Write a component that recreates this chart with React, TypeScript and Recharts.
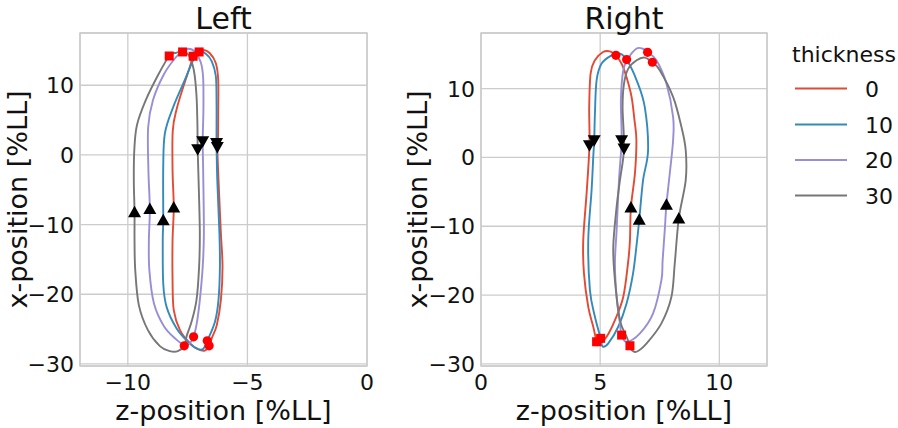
import React from "react";
import { ComposedChart, Line, Scatter, XAxis, YAxis, CartesianGrid } from "recharts";

// legend categories and line colours
const thickness = ["0", "10", "20", "30"];
const colors = ["#E24A33", "#348ABD", "#988ED5", "#777777"];

// Left foot loops, [z, x] in %LL, one closed loop per thickness
const leftT0: [number, number][] = [
  [-7.27, 14.16], [-7.11, 14.88], [-6.86, 15.09], [-6.57, 14.59], [-6.32, 13.16], [-6.22, 10.72],
  [-6.22, 6.41], [-6.23, 2.54], [-6.26, 1.15], [-6.19, -5.06], [-6.11, -11.23], [-6.04, -16.07],
  [-6.11, -20.85], [-6.28, -24.43], [-6.49, -26.3], [-6.6, -27.4], [-6.78, -28.09], [-7.07, -27.88],
  [-7.41, -27.02], [-7.82, -25.15], [-8.08, -22.28], [-8.13, -17.98], [-8.13, -12.24], [-8.08, -7.55],
  [-8.13, -2.2], [-8.12, 3.54], [-7.95, 6.7], [-7.66, 10.0], [-7.41, 12.58],
];
const leftT10: [number, number][] = [
  [-7.02, 14.78], [-6.74, 14.52], [-6.49, 13.44], [-6.32, 11.29], [-6.29, 7.13], [-6.29, 1.72],
  [-6.26, -3.63], [-6.17, -11.23], [-6.15, -16.07], [-6.21, -20.85], [-6.36, -24.0], [-6.68, -26.69],
  [-6.86, -27.88], [-7.13, -27.78], [-7.48, -26.83], [-7.96, -24.91], [-8.38, -21.81], [-8.52, -18.45],
  [-8.54, -12.24], [-8.52, -9.37], [-8.52, -1.72], [-8.45, 3.11], [-8.1, 6.89], [-7.62, 10.72],
  [-7.27, 13.59],
];
const leftT20: [number, number][] = [
  [-7.71, 14.78], [-7.47, 15.24], [-7.2, 14.81], [-6.95, 13.3], [-6.85, 11.0], [-6.84, 6.41],
  [-6.87, 1.97], [-6.85, -2.2], [-6.82, -11.23], [-6.87, -16.07], [-6.99, -20.85], [-7.11, -24.0],
  [-7.25, -26.11], [-7.41, -27.02], [-7.66, -27.23], [-7.99, -26.44], [-8.49, -24.58], [-8.91, -21.28],
  [-9.1, -16.54], [-9.12, -12.24], [-9.08, -7.75], [-9.14, -2.2], [-9.15, 3.97], [-8.95, 7.85],
  [-8.49, 11.58], [-7.99, 14.02],
];
const leftT30: [number, number][] = [
  [-8.27, 14.2], [-7.99, 14.66], [-7.7, 14.81], [-7.45, 14.3], [-7.24, 12.15], [-7.13, 8.57],
  [-7.09, 4.26], [-7.08, 0.82], [-7.03, -5.06], [-6.99, -11.23], [-7.02, -16.07], [-7.13, -20.85],
  [-7.34, -24.0], [-7.53, -25.87], [-7.64, -27.4], [-7.91, -28.16], [-8.24, -28.16], [-8.66, -27.45],
  [-9.16, -25.15], [-9.54, -21.56], [-9.69, -16.54], [-9.72, -12.24], [-9.72, -8.22], [-9.75, -3.63],
  [-9.73, 0.67], [-9.62, 4.26], [-9.25, 7.85], [-8.74, 11.43],
];
const leftSquares: [number, number][] = [[-7.27, 14.16], [-7.02, 14.78], [-7.71, 14.78], [-8.27, 14.2]];
const leftCircles: [number, number][] = [[-6.6, -27.4], [-6.68, -26.69], [-7.25, -26.11], [-7.64, -27.4]];
const leftDown: [number, number][] = [[-6.26, 1.15], [-6.29, 1.72], [-6.87, 1.97], [-7.08, 0.82]];
const leftUp: [number, number][] = [[-8.08, -7.55], [-8.52, -9.37], [-9.08, -7.75], [-9.72, -8.22]];

// Right foot loops
const rightT0: [number, number][] = [
  [5.66, 14.83], [5.91, 13.53], [6.12, 11.49], [6.32, 8.74], [6.44, 5.4], [6.52, 2.5], [6.46, -2.29],
  [6.29, -7.27], [6.25, -12.02], [6.18, -15.0], [5.97, -20.25], [5.62, -23.63], [5.27, -26.05],
  [4.91, -27.26], [4.85, -26.78], [4.71, -24.6], [4.5, -21.7], [4.32, -16.85], [4.29, -12.02],
  [4.44, -4.76], [4.55, 1.77], [4.54, 7.29], [4.6, 12.22], [4.78, 14.11], [5.12, 15.31], [5.41, 15.41],
];
const rightT10: [number, number][] = [
  [6.11, 14.21], [6.53, 11.2], [6.87, 7.33], [7.01, 1.04], [6.8, -3.31], [6.64, -9.04], [6.55, -12.02],
  [6.38, -16.85], [6.11, -21.2], [5.76, -24.6], [5.34, -27.01], [5.1, -27.45], [5.02, -26.28],
  [4.78, -23.15], [4.57, -19.27], [4.5, -12.02], [4.64, -4.76], [4.71, 0.07], [4.75, 2.5], [4.78, 6.37],
  [4.85, 11.2], [5.06, 13.63], [5.48, 14.83], [5.83, 15.08],
];
const rightT20: [number, number][] = [
  [6.99, 15.27], [7.36, 14.11], [7.78, 10.73], [8.06, 5.88], [8.06, 2.5], [7.92, -2.34], [7.78, -6.87],
  [7.71, -10.57], [7.62, -15.0], [7.57, -17.82], [7.22, -22.66], [6.67, -25.56], [6.11, -26.78],
  [5.9, -25.81], [5.83, -24.11], [5.69, -20.25], [5.62, -15.4], [5.69, -10.57], [5.79, -3.31],
  [5.9, 2.5], [5.87, 8.3], [5.97, 12.66], [6.18, 14.4], [6.53, 15.81], [6.79, 15.78],
];
const rightT30: [number, number][] = [
  [7.19, 13.82], [7.5, 12.66], [8.06, 8.78], [8.41, 4.43], [8.59, 1.04], [8.59, -3.31], [8.3, -8.87],
  [8.13, -15.4], [7.99, -20.25], [7.57, -24.11], [6.95, -27.01], [6.53, -28.23], [6.32, -27.98],
  [6.25, -27.36], [6.11, -26.05], [5.83, -23.63], [5.62, -17.82], [5.55, -12.99], [5.69, -7.18],
  [5.83, -3.31], [6.0, 1.29], [5.94, 7.33], [6.0, 10.73], [6.18, 12.9], [6.53, 14.11], [6.87, 14.5],
];
const rightSquares: [number, number][] = [[4.85, -26.78], [5.02, -26.28], [5.9, -25.81], [6.25, -27.36]];
const rightCircles: [number, number][] = [[5.66, 14.83], [6.11, 14.21], [6.99, 15.27], [7.19, 13.82]];
const rightDown: [number, number][] = [[4.55, 1.77], [4.75, 2.5], [5.9, 2.5], [6.0, 1.29]];
const rightUp: [number, number][] = [[6.29, -7.27], [6.64, -9.04], [7.78, -6.87], [8.3, -8.87]];

const yTicks = [-30, -20, -10, 0, 10];
const leftXTicks = [-10, -5, 0];
const rightXTicks = [0, 5, 10];

const FONT = "DejaVu Sans";
const toPts = (a: [number, number][]) => a.map(([z, x]) => ({ z, x }));
const fmt = (v: number) => (v < 0 ? "\u2212" + Math.abs(v) : String(v));

// closed catmull-rom curve so the loops have no seam
const closedCurve = (context: any) => {
  let pts: number[][] = [];
  return {
    areaStart() {},
    areaEnd() {},
    lineStart() {
      pts = [];
    },
    point(x: number, y: number) {
      pts.push([x, y]);
    },
    lineEnd() {
      const n = pts.length;
      if (!n) return;
      context.moveTo(pts[0][0], pts[0][1]);
      for (let i = 0; i < n; i++) {
        const p0 = pts[(i - 1 + n) % n];
        const p1 = pts[i];
        const p2 = pts[(i + 1) % n];
        const p3 = pts[(i + 2) % n];
        context.bezierCurveTo(
          p1[0] + (p2[0] - p0[0]) / 6,
          p1[1] + (p2[1] - p0[1]) / 6,
          p2[0] - (p3[0] - p1[0]) / 6,
          p2[1] - (p3[1] - p1[1]) / 6,
          p2[0],
          p2[1]
        );
      }
      context.closePath();
    },
  };
};

const SquareMark = (p: any) => <rect x={p.cx - 4.5} y={p.cy - 4.5} width={9} height={9} fill="#ff0000" />;
const CircleMark = (p: any) => <circle cx={p.cx} cy={p.cy} r={4.6} fill="#ff0000" />;
const UpMark = (p: any) => (
  <polygon points={`${p.cx},${p.cy - 6.5} ${p.cx - 6.5},${p.cy + 5} ${p.cx + 6.5},${p.cy + 5}`} fill="#000" />
);
const DownMark = (p: any) => (
  <polygon points={`${p.cx},${p.cy + 6.5} ${p.cx - 6.5},${p.cy - 5} ${p.cx + 6.5},${p.cy - 5}`} fill="#000" />
);

const XTick = ({ x, payload }: any) => (
  <text x={x} y={390} textAnchor="middle" fontSize={22} fontFamily={FONT} fill="#111">
    {fmt(payload.value)}
  </text>
);
const YTick = ({ y, payload }: any) => (
  <text x={74} y={y + 8} textAnchor="end" fontSize={22} fontFamily={FONT} fill="#111">
    {fmt(payload.value)}
  </text>
);

type PanelProps = {
  left: number;
  loops: [number, number][][];
  squares: [number, number][];
  circles: [number, number][];
  downs: [number, number][];
  ups: [number, number][];
  xDomain: [number, number];
  yDomain: [number, number];
  xTicks: number[];
  marginRight: number;
};

function Panel({ left, loops, squares, circles, downs, ups, xDomain, yDomain, xTicks, marginRight }: PanelProps) {
  return (
    <div style={{ position: "absolute", left, top: 0 }}>
      <ComposedChart width={380} height={428} margin={{ top: 33, right: marginRight, bottom: 0, left: 0 }}>
        <CartesianGrid stroke="#cccccc" strokeWidth={1.3} />
        <XAxis
          type="number"
          dataKey="z"
          domain={xDomain}
          ticks={xTicks}
          allowDataOverflow
          interval={0}
          axisLine={false}
          tickLine={false}
          height={62}
          tick={(p: any) => <XTick {...p} />}
        />
        <YAxis
          type="number"
          dataKey="x"
          domain={yDomain}
          ticks={yTicks}
          allowDataOverflow
          interval={0}
          axisLine={false}
          tickLine={false}
          width={80}
          tick={(p: any) => <YTick {...p} />}
        />
        {loops.map((d, i) => (
          <Line
            key={thickness[i]}
            data={toPts(d)}
            dataKey="x"
            type={closedCurve as any}
            stroke={colors[i]}
            strokeWidth={1.9}
            dot={false}
            activeDot={false}
            isAnimationActive={false}
          />
        ))}
        <Scatter data={toPts(squares)} shape={SquareMark} isAnimationActive={false} />
        <Scatter data={toPts(circles)} shape={CircleMark} isAnimationActive={false} />
        <Scatter data={toPts(downs)} shape={DownMark} isAnimationActive={false} />
        <Scatter data={toPts(ups)} shape={UpMark} isAnimationActive={false} />
      </ComposedChart>
    </div>
  );
}

export default function App() {
  const legendY = [88.5, 124.5, 160, 195.5];
  return (
    <div style={{ position: "absolute", left: 0, top: 0, width: 898, height: 428, background: "#fff" }}>
      <Panel
        left={0}
        loops={[leftT0, leftT10, leftT20, leftT30]}
        squares={leftSquares}
        circles={leftCircles}
        downs={leftDown}
        ups={leftUp}
        xDomain={[-12, 0]}
        yDomain={[-30.3, 17.5]}
        xTicks={leftXTicks}
        marginRight={13}
      />
      <Panel
        left={401}
        loops={[rightT0, rightT10, rightT20, rightT30]}
        squares={rightSquares}
        circles={rightCircles}
        downs={rightDown}
        ups={rightUp}
        xDomain={[0, 12]}
        yDomain={[-30.3, 18.07]}
        xTicks={rightXTicks}
        marginRight={14}
      />
      <svg
        width={898}
        height={428}
        style={{ position: "absolute", left: 0, top: 0, pointerEvents: "none" }}
        fontFamily={FONT}
        fill="#111"
      >
        <rect x={80} y={33} width={287} height={333} fill="none" stroke="#cccccc" strokeWidth={1.5} />
        <rect x={481} y={33} width={286} height={333} fill="none" stroke="#cccccc" strokeWidth={1.5} />
        <text x={223.5} y={29} textAnchor="middle" fontSize={30}>Left</text>
        <text x={624} y={29} textAnchor="middle" fontSize={30}>Right</text>
        <text x={223.5} y={420} textAnchor="middle" fontSize={27}>z-position [%LL]</text>
        <text x={624} y={420} textAnchor="middle" fontSize={27}>z-position [%LL]</text>
        <text transform="translate(27,199.5) rotate(-90)" textAnchor="middle" fontSize={27}>x-position [%LL]</text>
        <text transform="translate(427,199.5) rotate(-90)" textAnchor="middle" fontSize={27}>x-position [%LL]</text>
        <text x={792} y={62} fontSize={22}>thickness</text>
        {thickness.map((t, i) => (
          <g key={t}>
            <line x1={795} x2={847} y1={legendY[i]} y2={legendY[i]} stroke={colors[i]} strokeWidth={2} />
            <text x={865} y={legendY[i] + 8} fontSize={22}>{t}</text>
          </g>
        ))}
      </svg>
    </div>
  );
}
